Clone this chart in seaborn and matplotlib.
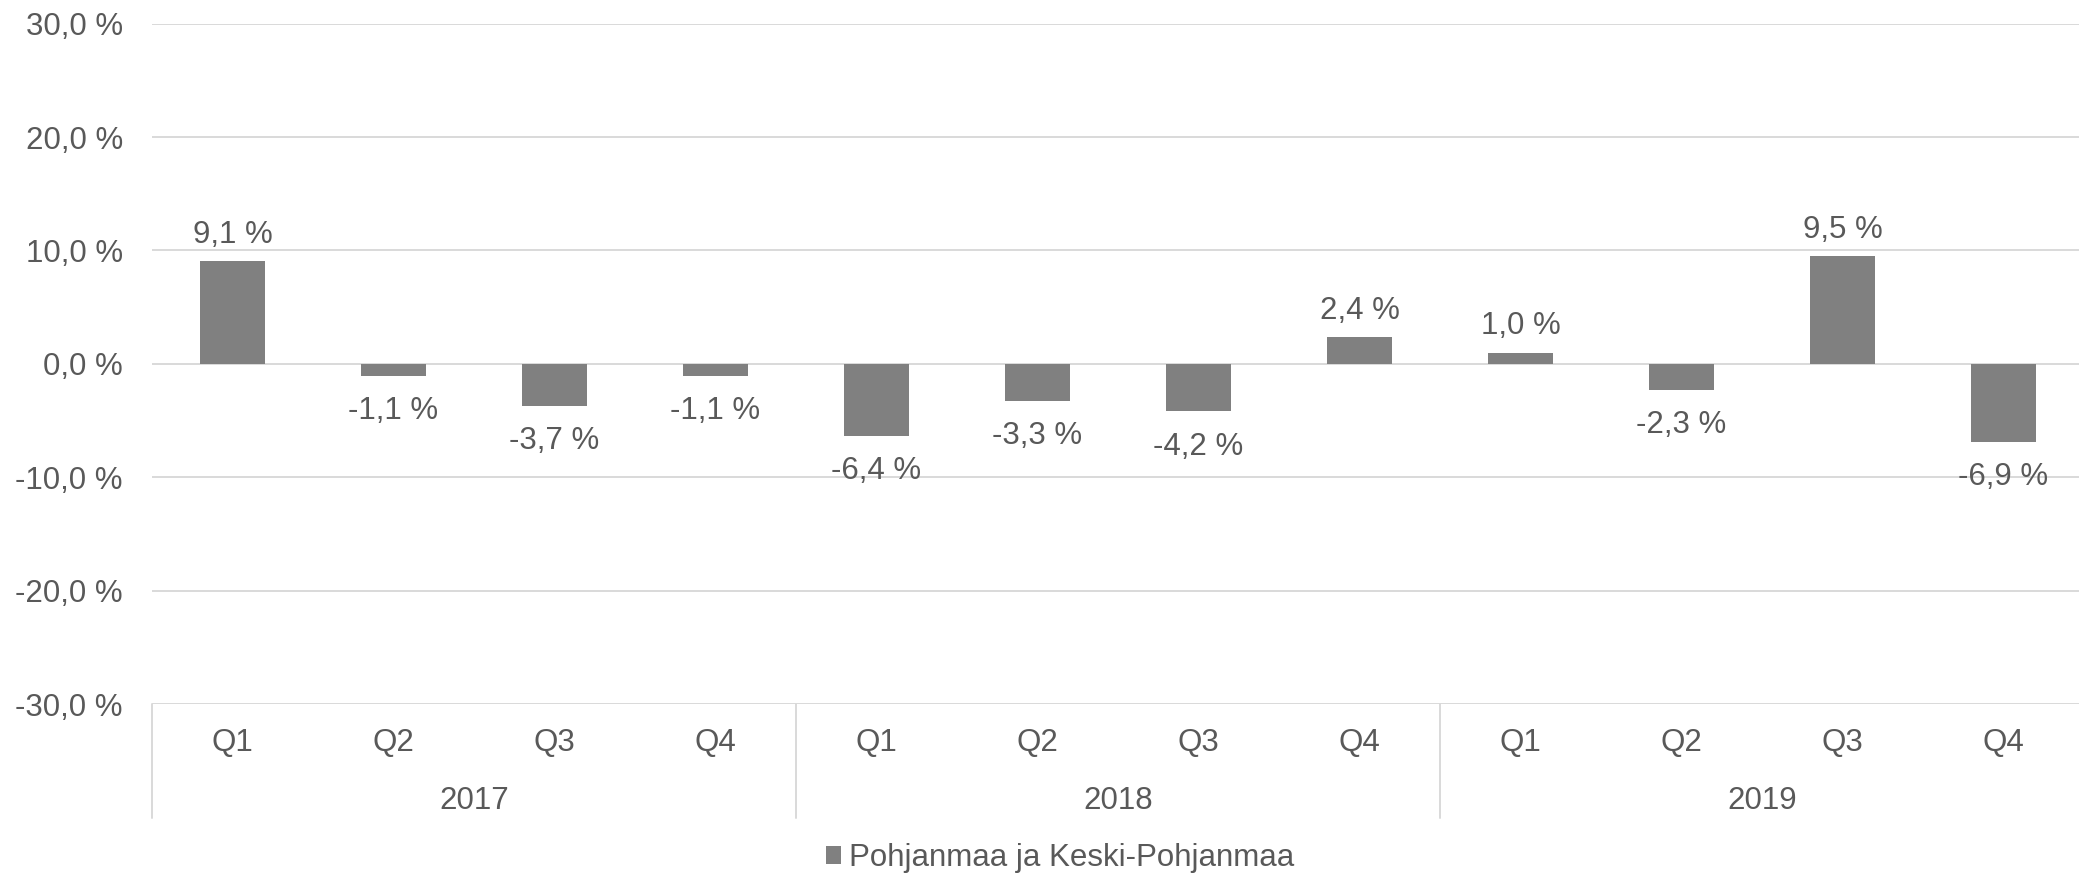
import numpy as np
import pandas as pd
import matplotlib
matplotlib.use("Agg")
import matplotlib.pyplot as plt
import matplotlib.transforms as mtransforms
from matplotlib.patches import Patch
from matplotlib.ticker import FuncFormatter
import seaborn as sns

# data
years = ["2017", "2018", "2019"]
quarters = ["Q1", "Q2", "Q3", "Q4"]
values = [9.1, -1.1, -3.7, -1.1, -6.4, -3.3, -4.2, 2.4, 1.0, -2.3, 9.5, -6.9]
series_name = "Pohjanmaa ja Keski-Pohjanmaa"

bar_color = "#808080"
text_color = "#595959"
grid_color = "#d9d9d9"

sns.set_theme(style="white")
plt.rcParams["font.family"] = ["Liberation Sans", "DejaVu Sans"]
plt.rcParams["text.color"] = text_color
FS = 22.5

df = pd.DataFrame({
    "pos": np.arange(len(values)),
    "value": values,
})

W, H = 2079, 874
fig = plt.figure(figsize=(W / 100, H / 100), dpi=100)
left, right, top, bottom = 152, 2084, 23.7, 704
ax = fig.add_axes([left / W, 1 - bottom / H, (right - left) / W, (bottom - top) / H])

sns.barplot(data=df, x="pos", y="value", color=bar_color, width=0.4,
            saturation=1, linewidth=0, ax=ax)

ax.set_ylim(-30, 30)
ax.set_xlim(-0.5, len(values) - 0.5)
ax.set_yticks(np.arange(-30, 31, 10))
ax.yaxis.set_major_formatter(FuncFormatter(lambda v, p: f"{v:.1f} %".replace(".", ",")))
ax.grid(axis="y", color=grid_color, linewidth=1.4)
ax.set_axisbelow(True)
for s in ax.spines.values():
    s.set_visible(False)
ax.set_xlabel("")
ax.set_ylabel("")

ax.set_xticks(range(len(values)))
ax.set_xticklabels(quarters * len(years))
ax.tick_params(axis="x", length=0, pad=17, labelsize=FS, labelcolor=text_color)
ax.tick_params(axis="y", length=0, pad=21, labelsize=FS, labelcolor=text_color)

# data labels
for i, v in enumerate(values):
    lbl = f"{v:.1f} %".replace(".", ",")
    off = 13 if v >= 0 else -31
    ax.annotate(lbl, (i, v), xytext=(0, off), textcoords="offset points",
                ha="center", va="baseline", fontsize=FS, color=text_color)

# year grouping: separators and labels below the quarter labels
trans = mtransforms.blended_transform_factory(ax.transData, ax.transAxes)
sep_depth = -(818 - 704) / (bottom - top)
for k in range(len(years) + 1):
    xs = k * len(quarters) - 0.5
    ax.plot([xs, xs], [0, sep_depth], color=grid_color, linewidth=1.4,
            transform=trans, clip_on=False)
for k, yr in enumerate(years):
    xc = k * len(quarters) + (len(quarters) - 1) / 2
    ax.text(xc, -(809 - 704) / (bottom - top), yr, transform=trans,
            ha="center", va="baseline", fontsize=FS, color=text_color)

handle = Patch(facecolor=bar_color, edgecolor="none", label=series_name)
fig.legend(handles=[handle], loc="center", bbox_to_anchor=(1060 / W, 1 - 858 / H),
           frameon=False, fontsize=FS, handlelength=0.48, handleheight=0.48,
           handletextpad=0.26, labelcolor=text_color)

fig.savefig("out.png", dpi=100)
